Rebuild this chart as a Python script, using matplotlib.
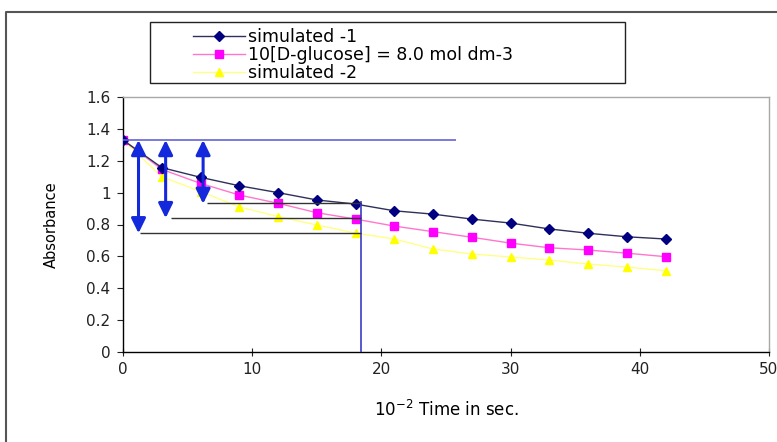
import numpy as np
import matplotlib
matplotlib.use("Agg")
import matplotlib.pyplot as plt
from matplotlib.lines import Line2D
from matplotlib.patches import Rectangle

plt.rcParams['font.family'] = ['DejaVu Sans']

# data
time = [0, 3, 6, 9, 12, 15, 18, 21, 24, 27, 30, 33, 36, 39, 42]
sim1 = [1.33, 1.157, 1.096, 1.043, 1.0, 0.954, 0.928, 0.886, 0.865, 0.834, 0.809, 0.772, 0.745, 0.723, 0.709]
glucose = [1.33, 1.146, 1.058, 0.985, 0.933, 0.874, 0.834, 0.79, 0.755, 0.72, 0.683, 0.654, 0.64, 0.62, 0.598]
sim2 = [1.33, 1.10, 1.007, 0.91, 0.85, 0.797, 0.746, 0.709, 0.646, 0.615, 0.596, 0.577, 0.552, 0.533, 0.51]
labels = ['simulated -1', '10[D-glucose] = 8.0 mol dm-3', 'simulated -2']

# construction lines / arrows
h_blue = (0, 25.8, 1.33)
v_blue = (18.4, 0, 0.95)
h_black = [(6.5, 18.4, 0.935), (3.75, 18.4, 0.838), (1.3, 18.4, 0.745)]
arrows = [(1.2, 1.33, 0.745), (3.3, 1.33, 0.84), (6.2, 1.33, 0.93)]

W, H = 777, 442
fig = plt.figure(figsize=(W / 100, H / 100), dpi=100)
ax = fig.add_axes([123 / W, 1 - 352 / H, (769 - 123) / W, (352 - 97) / H])

l1, = ax.plot(time, sim1, '-', color='#30305a', lw=1, marker='D', ms=5.2,
              mfc='#000080', mec='#000080', zorder=4)
l2, = ax.plot(time, glucose, '-', color='#ff77cc', lw=1, marker='s', ms=6,
              mfc='#ff00ff', mec='#ff00ff', zorder=3)
l3, = ax.plot(time, sim2, '-', color='#ffff88', lw=1, marker='^', ms=6,
              mfc='#ffff00', mec='#ffff00', zorder=2)

ax.hlines(h_blue[2], h_blue[0], h_blue[1], color='#6464d8', lw=1.2, zorder=5)
ax.vlines(v_blue[0], v_blue[1], v_blue[2], color='#3c3cc8', lw=1.2, zorder=5)
for x0, x1, y in h_black:
    ax.hlines(y, x0, x1, color='#333333', lw=1, zorder=5)
for x, y0, y1 in arrows:
    ax.annotate('', xy=(x, y1), xytext=(x, y0),
                arrowprops=dict(arrowstyle='<|-|>,head_length=0.55,head_width=0.27',
                                color='#1428dc', lw=2.2,
                                mutation_scale=16, shrinkA=0, shrinkB=0),
                zorder=6)

ax.set_xlim(0, 50)
ax.set_ylim(0, 1.6)
ax.set_xticks(np.arange(0, 51, 10))
ax.set_yticks(np.arange(0, 1.61, 0.2))
ax.set_yticklabels(['0', '0.2', '0.4', '0.6', '0.8', '1', '1.2', '1.4', '1.6'])
ax.tick_params(axis='x', direction='inout', length=6, labelsize=11, colors='#222222', pad=4)
ax.tick_params(axis='y', direction='out', length=4, labelsize=11, colors='#222222', pad=5)
for s in ['left', 'bottom']:
    ax.spines[s].set_color('black')
    ax.spines[s].set_linewidth(1)
for s in ['top', 'right']:
    ax.spines[s].set_color('#a8a8a8')
    ax.spines[s].set_linewidth(1)

ax.set_xlabel('10$^{-2}$ Time in sec.', fontsize=12, labelpad=17)
ax.set_ylabel('Absorbance', fontsize=10.5, labelpad=20)

# legend
fig.patches.append(Rectangle((150 / W, 1 - 83 / H), (625 - 150) / W, (83 - 22) / H,
                             transform=fig.transFigure, fill=False, ec='#222222', lw=1))
fig.legend([l1, l2, l3], labels, loc='upper left', bbox_to_anchor=(193 / W, 1 - 28 / H),
           bbox_transform=fig.transFigure, frameon=False, fontsize=12.5,
           handlelength=3.0, handletextpad=0.15, labelspacing=0.0,
           borderpad=0, borderaxespad=0)

# outer chart border
fig.add_artist(Line2D([6 / W, 6 / W, 1], [0, 1 - 12 / H, 1 - 12 / H],
                      transform=fig.transFigure, color='#555555', lw=1.5))

fig.savefig('out.png', dpi=100)
